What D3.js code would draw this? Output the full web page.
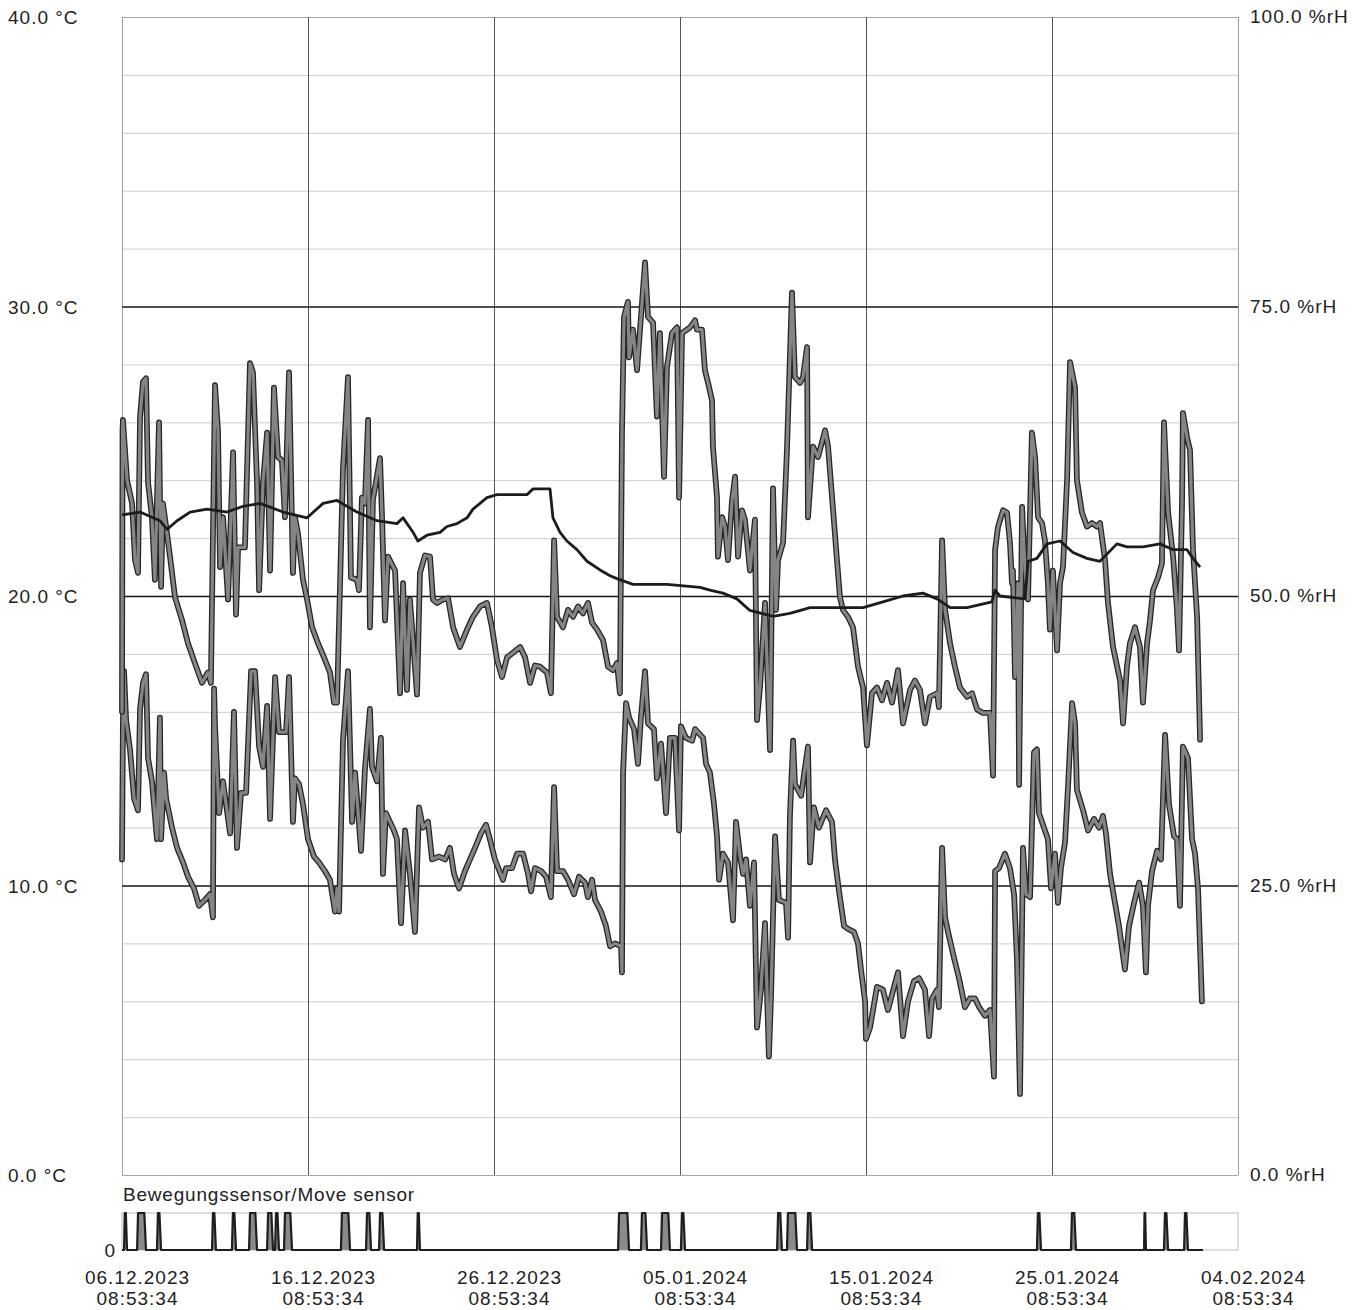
<!DOCTYPE html>
<html><head><meta charset="utf-8">
<script src="https://cdn.jsdelivr.net/npm/d3@7"></script>
<style>
html,body{margin:0;padding:0;background:#fff;}
svg{display:block;font-family:"Liberation Sans",Arial,Helvetica,sans-serif;}
</style></head><body>
<svg id="chart" width="1364" height="1310"></svg>
<script>
// ---------- DATA ----------
const startTime = new Date(2023, 11, 6, 8, 53, 34);
const tempTicks = [0, 10, 20, 30, 40];
const humTicks = [0, 25, 50, 75, 100];
const dateTickDays = [0, 10, 20, 30, 40, 50, 60];
const motionTitle = "Bewegungssensor/Move sensor";

// temperature [day offset, °C]
const temperature = [[0.00,22.8],[0.97,22.9],[2.04,22.6],[2.42,22.3],[2.96,22.6],[3.66,22.9],[4.57,23.0],[5.65,22.9],[6.51,23.1],[7.42,23.2],[8.66,22.9],[9.95,22.7],[10.81,23.2],[11.56,23.3],[12.63,22.9],[13.71,22.6],[14.78,22.5],[15.11,22.7],[15.65,22.2],[15.91,21.9],[16.40,22.1],[17.10,22.2],[17.47,22.4],[18.01,22.5],[18.55,22.7],[18.87,23.0],[19.25,23.2],[19.62,23.4],[20.16,23.5],[21.77,23.5],[22.10,23.7],[23.01,23.7],[23.17,22.7],[23.55,22.2],[23.92,21.9],[24.46,21.6],[25.00,21.2],[25.70,20.9],[26.24,20.7],[26.61,20.6],[27.47,20.4],[29.30,20.4],[31.08,20.3],[31.61,20.2],[32.31,20.1],[33.06,19.9],[33.76,19.5],[35.00,19.3],[35.91,19.4],[36.99,19.6],[38.98,19.6],[39.84,19.6],[40.91,19.8],[41.99,20.0],[43.06,20.1],[43.82,19.9],[44.52,19.6],[45.43,19.6],[46.77,19.8],[46.94,20.2],[47.20,20.0],[48.55,19.9],[48.71,21.2],[49.19,21.3],[49.73,21.8],[50.43,21.9],[51.13,21.5],[51.88,21.3],[52.58,21.2],[53.49,21.8],[54.03,21.7],[54.89,21.7],[55.81,21.8],[56.51,21.6],[57.26,21.6],[57.58,21.3],[57.96,21.0]];

// relative humidity [day offset, %rH]
const humidity = [[0.00,40.0],[0.03,64.3],[0.05,65.2],[0.27,60.0],[0.54,58.0],[0.70,53.1],[0.86,52.0],[0.97,65.5],[1.13,68.5],[1.29,68.8],[1.40,59.8],[1.61,56.8],[1.77,51.4],[1.99,65.0],[2.10,50.8],[2.20,58.0],[2.37,56.0],[2.58,53.4],[2.85,49.9],[3.23,47.9],[3.55,45.9],[3.92,44.2],[4.30,42.5],[4.62,43.4],[4.78,42.5],[5.00,68.2],[5.16,64.3],[5.27,52.5],[5.43,56.8],[5.70,49.7],[5.97,62.4],[6.13,48.4],[6.24,54.2],[6.61,54.2],[6.88,70.1],[7.04,69.3],[7.26,59.8],[7.37,50.5],[7.58,59.8],[7.80,64.1],[7.96,52.2],[8.17,68.0],[8.39,62.0],[8.60,61.7],[8.76,56.8],[8.98,69.3],[9.19,52.0],[9.30,56.8],[9.46,55.4],[9.73,51.4],[9.95,49.7],[10.22,47.3],[10.54,45.9],[10.91,44.5],[11.18,43.4],[11.40,40.8],[11.56,40.8],[11.88,60.9],[12.15,68.9],[12.31,51.6],[12.63,51.4],[12.74,50.5],[12.90,58.5],[13.06,58.0],[13.23,65.2],[13.33,47.3],[13.49,58.3],[13.87,61.9],[13.98,56.8],[14.14,47.9],[14.30,53.4],[14.68,52.2],[14.95,41.6],[15.11,51.1],[15.32,41.9],[15.48,49.7],[15.86,41.5],[16.02,52.0],[16.29,53.5],[16.56,53.4],[16.72,49.7],[16.94,49.4],[17.26,49.7],[17.53,49.8],[17.80,47.3],[18.17,45.6],[18.55,47.1],[18.87,48.2],[19.25,49.1],[19.62,49.4],[19.89,47.3],[20.16,44.5],[20.43,43.0],[20.70,44.7],[21.02,45.1],[21.40,45.6],[21.67,44.7],[21.94,42.5],[22.20,44.0],[22.47,43.9],[22.85,43.4],[23.06,41.6],[23.23,54.8],[23.39,48.2],[23.71,47.3],[23.98,48.8],[24.25,48.2],[24.52,49.1],[24.78,48.5],[25.05,49.4],[25.27,47.7],[25.54,47.1],[25.86,46.2],[26.13,43.9],[26.40,43.6],[26.61,44.2],[26.77,41.6],[26.88,64.1],[26.99,74.1],[27.20,75.4],[27.26,70.6],[27.47,73.0],[27.69,69.5],[27.85,73.0],[28.12,78.8],[28.28,74.1],[28.55,73.6],[28.76,65.5],[28.92,72.7],[29.14,60.3],[29.30,69.8],[29.57,72.7],[29.84,73.2],[29.95,58.5],[30.11,72.7],[30.54,73.2],[30.81,73.8],[30.91,73.0],[31.18,73.0],[31.34,69.5],[31.51,68.4],[31.72,66.9],[31.77,62.9],[31.99,58.5],[32.04,53.4],[32.26,56.8],[32.42,56.0],[32.58,53.1],[32.80,58.3],[32.96,60.3],[33.12,53.4],[33.33,57.4],[33.49,56.6],[33.76,52.2],[34.03,56.6],[34.14,39.3],[34.30,42.1],[34.57,49.4],[34.84,36.7],[35.00,59.3],[35.16,48.8],[35.27,53.1],[35.54,54.6],[35.75,62.6],[36.02,76.2],[36.18,68.9],[36.45,68.4],[36.61,68.9],[36.83,71.5],[36.88,56.8],[37.15,62.9],[37.42,62.0],[37.80,64.3],[37.96,62.9],[38.23,57.4],[38.44,53.1],[38.60,49.9],[38.76,48.8],[39.03,48.2],[39.30,47.3],[39.57,43.9],[39.84,42.1],[40.05,37.1],[40.32,41.6],[40.59,42.1],[40.86,41.0],[41.13,42.5],[41.40,40.8],[41.72,43.6],[41.99,39.0],[42.37,41.9],[42.63,42.7],[42.90,41.9],[43.17,39.0],[43.44,41.3],[43.82,41.6],[43.92,40.4],[44.09,54.8],[44.25,48.8],[44.52,45.9],[44.78,43.9],[45.05,42.1],[45.43,41.3],[45.70,41.6],[45.97,40.2],[46.29,39.9],[46.67,39.9],[46.83,34.5],[46.94,54.0],[47.10,56.0],[47.37,57.4],[47.58,57.2],[47.74,54.6],[47.85,51.1],[47.90,52.2],[48.01,43.0],[48.17,51.1],[48.23,33.7],[48.39,57.7],[48.55,52.2],[48.71,49.7],[48.92,64.1],[49.09,62.0],[49.25,56.8],[49.46,56.3],[49.62,54.8],[49.78,51.1],[49.89,47.1],[50.05,52.2],[50.27,45.3],[50.43,51.1],[50.59,52.5],[50.81,60.0],[50.97,70.2],[51.24,68.0],[51.34,60.0],[51.61,57.2],[51.88,56.0],[52.15,56.3],[52.42,56.0],[52.58,56.3],[52.85,53.1],[53.01,49.4],[53.28,45.6],[53.66,42.7],[53.82,39.0],[54.03,43.9],[54.19,45.9],[54.46,47.3],[54.73,45.6],[54.89,40.8],[55.11,45.9],[55.27,47.9],[55.43,50.5],[55.70,51.6],[55.91,52.8],[56.02,65.0],[56.24,57.2],[56.51,53.4],[56.72,48.8],[56.83,45.3],[56.99,58.0],[57.04,65.8],[57.26,63.7],[57.42,62.6],[57.58,54.0],[57.80,48.2],[57.96,37.6]];

// dew point [day offset, °C]
const dewPoint = [[0.00,10.9],[0.05,15.6],[0.11,17.4],[0.22,15.7],[0.43,14.7],[0.65,13.0],[0.86,12.6],[0.97,16.1],[1.13,17.0],[1.29,17.3],[1.40,14.4],[1.61,13.6],[1.88,11.6],[2.04,15.8],[2.10,11.6],[2.26,13.9],[2.37,13.0],[2.69,12.0],[2.96,11.3],[3.28,10.8],[3.55,10.3],[3.87,9.9],[4.14,9.3],[4.46,9.5],[4.73,9.7],[4.89,8.9],[4.95,16.8],[5.00,15.5],[5.22,12.5],[5.43,13.6],[5.81,11.8],[6.02,16.0],[6.18,11.3],[6.40,13.2],[6.67,13.2],[6.94,17.4],[7.15,17.4],[7.37,14.8],[7.58,14.1],[7.80,16.2],[7.96,12.3],[8.23,17.2],[8.44,15.3],[8.82,15.3],[8.98,17.2],[9.19,12.2],[9.30,13.7],[9.52,13.5],[9.73,12.8],[10.00,11.6],[10.32,11.0],[10.59,10.8],[10.91,10.5],[11.18,10.2],[11.45,9.1],[11.56,9.9],[11.67,9.1],[11.88,15.0],[12.15,17.4],[12.37,12.2],[12.53,13.9],[12.85,11.2],[13.06,14.0],[13.33,16.1],[13.44,14.1],[13.71,13.6],[13.92,15.1],[14.03,10.4],[14.19,12.5],[14.62,11.9],[14.78,11.6],[15.00,8.7],[15.22,11.9],[15.48,10.4],[15.75,8.4],[15.97,12.7],[16.18,12.0],[16.45,12.2],[16.67,10.9],[17.04,11.0],[17.37,10.9],[17.63,11.3],[17.85,10.4],[18.12,9.9],[18.44,10.5],[18.71,10.9],[18.98,11.3],[19.30,11.8],[19.57,12.1],[19.78,11.6],[20.05,10.9],[20.48,10.2],[20.65,10.6],[20.97,10.6],[21.24,11.1],[21.56,11.1],[21.83,10.4],[21.99,9.8],[22.20,10.6],[22.53,10.5],[22.80,10.3],[23.06,9.6],[23.23,13.4],[23.39,10.5],[23.71,10.5],[23.98,10.2],[24.30,9.7],[24.57,10.3],[24.89,10.1],[25.05,9.6],[25.27,10.2],[25.43,9.5],[25.75,9.1],[26.02,8.6],[26.24,7.9],[26.51,8.0],[26.83,7.9],[26.88,7.0],[26.94,13.9],[27.10,16.3],[27.26,15.8],[27.53,15.4],[27.74,14.2],[27.90,15.8],[28.12,17.4],[28.28,15.6],[28.60,15.4],[28.76,13.7],[28.98,14.9],[29.25,12.5],[29.46,15.1],[29.73,15.1],[29.95,11.9],[30.05,15.5],[30.32,15.1],[30.65,15.0],[30.81,15.4],[31.24,15.1],[31.40,14.2],[31.61,13.9],[31.83,12.8],[31.99,11.7],[32.10,10.2],[32.31,11.1],[32.58,10.8],[32.85,8.8],[33.01,12.2],[33.23,11.0],[33.39,10.4],[33.55,10.9],[33.76,9.3],[33.98,10.8],[34.14,5.1],[34.35,6.4],[34.57,8.7],[34.78,4.1],[34.89,6.1],[35.11,11.7],[35.32,9.5],[35.70,9.4],[35.81,8.2],[35.91,12.4],[36.08,15.0],[36.18,13.5],[36.51,13.1],[36.88,14.8],[36.99,10.8],[37.20,12.7],[37.47,12.0],[37.85,12.6],[38.17,12.2],[38.33,10.9],[38.55,9.8],[38.82,8.6],[39.03,8.5],[39.35,8.4],[39.57,8.0],[39.73,7.1],[39.95,6.0],[40.00,4.7],[40.22,5.1],[40.43,5.9],[40.59,6.5],[40.91,6.4],[41.18,5.7],[41.51,6.5],[41.72,7.0],[41.99,4.8],[42.26,6.0],[42.58,6.7],[42.85,6.8],[43.17,6.4],[43.39,4.8],[43.55,6.1],[43.82,6.4],[43.92,5.8],[44.09,11.3],[44.25,8.9],[44.41,8.4],[44.73,7.5],[45.00,6.8],[45.32,5.8],[45.59,6.1],[45.86,6.1],[46.08,5.8],[46.40,5.5],[46.67,5.7],[46.88,3.4],[46.94,10.5],[47.15,10.6],[47.47,11.1],[47.74,10.6],[47.96,9.7],[48.12,7.4],[48.28,2.8],[48.44,11.3],[48.60,9.7],[48.82,9.6],[49.03,14.6],[49.19,14.7],[49.30,12.5],[49.62,11.9],[49.78,11.6],[49.95,9.9],[50.16,11.1],[50.32,9.4],[50.48,10.6],[50.70,11.5],[50.86,13.4],[51.08,16.3],[51.24,15.6],[51.34,13.3],[51.67,12.6],[51.94,11.9],[52.26,12.3],[52.53,12.0],[52.74,12.4],[52.90,11.8],[53.12,10.4],[53.33,9.6],[53.60,8.6],[53.92,7.1],[54.14,8.6],[54.41,9.4],[54.68,10.1],[54.89,9.3],[55.05,7.0],[55.16,9.3],[55.38,10.5],[55.65,11.2],[55.86,10.9],[56.08,15.2],[56.29,12.8],[56.56,11.7],[56.72,11.6],[56.88,9.3],[57.04,14.8],[57.31,14.4],[57.53,11.6],[57.69,11.1],[57.85,9.9],[58.06,6.0]];

// move sensor active intervals [start day, end day]
const motionIntervals = [[0.11,0.27],[0.81,1.29],[1.88,2.10],[4.84,5.05],[5.91,6.13],[6.83,7.26],[7.80,8.12],[8.23,8.44],[8.71,9.14],[11.77,12.26],[13.12,13.39],[13.82,14.09],[15.86,16.02],[26.67,27.26],[27.90,28.23],[28.98,29.46],[30.05,30.27],[35.22,35.48],[35.75,36.29],[36.83,37.10],[49.19,49.41],[51.02,51.29],[54.95,55.05],[56.02,56.24],[57.10,57.31]];
const motionEndDay = 58.12;

// ---------- LAYOUT ----------
const L = 122, R = 1238, T = 17, B = 1175;
const stripTop = 1213, stripBase = 1250;
const textColor = "#222";
const svg = d3.select("#chart");
const toDate = d => new Date(startTime.getTime() + d * 86400000);

const x = d3.scaleTime().domain([toDate(0), toDate(60)]).range([L, R]);
const yT = d3.scaleLinear().domain([0, 40]).range([B, T]);
const yH = d3.scaleLinear().domain([0, 100]).range([B, T]);
const yM = d3.scaleLinear().domain([0, 1]).range([stripBase, stripTop]);

// ---------- GRID ----------
const minorVals = d3.range(2, 40, 2).filter(v => v % 10 !== 0);
svg.append("g").attr("transform", `translate(${L},0)`)
  .call(d3.axisLeft(yT).tickValues(minorVals).tickSize(-(R - L)).tickFormat(""))
  .call(g => g.select(".domain").remove())
  .call(g => g.selectAll("line").attr("stroke", "#cdcdcd").attr("stroke-width", 1));

svg.append("g").attr("transform", `translate(${L},0)`)
  .call(d3.axisLeft(yT).tickValues([0, 40]).tickSize(-(R - L)).tickFormat(""))
  .call(g => g.select(".domain").remove())
  .call(g => g.selectAll("line").attr("stroke", "#a8a8a8").attr("stroke-width", 1));

const dateTicks = dateTickDays.map(toDate);
svg.append("g").attr("transform", `translate(0,${B})`)
  .call(d3.axisTop(x).tickValues(dateTicks.slice(1, -1)).tickSize(B - T).tickFormat(""))
  .call(g => g.select(".domain").remove())
  .call(g => g.selectAll("line").attr("stroke", "#555").attr("stroke-width", 1));
svg.append("g").attr("transform", `translate(0,${B})`)
  .call(d3.axisTop(x).tickValues([dateTicks[0], dateTicks[dateTicks.length - 1]]).tickSize(B - T).tickFormat(""))
  .call(g => g.select(".domain").remove())
  .call(g => g.selectAll("line").attr("stroke", "#a0a0a0").attr("stroke-width", 1));

svg.append("g").attr("transform", `translate(${L},0)`)
  .call(d3.axisLeft(yT).tickValues([10, 20, 30]).tickSize(-(R - L)).tickFormat(""))
  .call(g => g.select(".domain").remove())
  .call(g => g.selectAll("line").attr("stroke", "#161616").attr("stroke-width", 1.5));

// ---------- SERIES ----------
const lineH = d3.line().x(d => x(toDate(d[0]))).y(d => yH(d[1]));
const lineT = d3.line().x(d => x(toDate(d[0]))).y(d => yT(d[1]));

function bandPath(data, gen) {
  svg.append("path").datum(data).attr("d", gen)
    .attr("fill", "none").attr("stroke", "#262626").attr("stroke-width", 5.8)
    .attr("stroke-linejoin", "round").attr("stroke-linecap", "round");
  svg.append("path").datum(data).attr("d", gen)
    .attr("fill", "none").attr("stroke", "#858585").attr("stroke-width", 3.2)
    .attr("stroke-linejoin", "round").attr("stroke-linecap", "round");
}
bandPath(dewPoint, lineT);
bandPath(humidity, lineH);

svg.append("path").datum(temperature).attr("d", lineT)
  .attr("fill", "none").attr("stroke", "#1c1c1c").attr("stroke-width", 2.8)
  .attr("stroke-linejoin", "round");

// ---------- AXIS LABELS ----------
const labelStyle = g => g.selectAll("text")
  .attr("fill", textColor).attr("font-size", 19).attr("letter-spacing", 1)
  .attr("font-family", '"Liberation Sans", Arial, sans-serif');

svg.append("g").attr("transform", `translate(${L},0)`)
  .call(d3.axisLeft(yT).tickValues(tempTicks).tickSize(0).tickFormat(d => d.toFixed(1) + " °C"))
  .call(g => g.select(".domain").remove())
  .call(labelStyle)
  .call(g => g.selectAll("text").attr("text-anchor", "start").attr("x", 8 - L).attr("dy", "0.35em"));

svg.append("g").attr("transform", `translate(${R},0)`)
  .call(d3.axisRight(yH).tickValues(humTicks).tickSize(0).tickFormat(d => d.toFixed(1) + " %rH"))
  .call(g => g.select(".domain").remove())
  .call(labelStyle)
  .call(g => g.selectAll("text").attr("text-anchor", "start").attr("x", 12).attr("dy", "0.30em"));

const fmtDate = d3.timeFormat("%d.%m.%Y");
const fmtTime = d3.timeFormat("%H:%M:%S");
svg.append("g")
  .call(d3.axisBottom(x).tickValues(dateTicks).tickSize(0).tickFormat(""))
  .call(g => g.select(".domain").remove())
  .call(g => g.selectAll(".tick text").each(function (d) {
    const t = d3.select(this).attr("y", null).attr("dy", null).attr("text-anchor", "middle");
    t.append("tspan").attr("x", 15).attr("y", 1284).text(fmtDate(d));
    t.append("tspan").attr("x", 15).attr("y", 1305).text(fmtTime(d));
  }))
  .call(labelStyle);

// ---------- MOVE SENSOR STRIP ----------
svg.append("text").attr("x", 123).attr("y", 1201).text(motionTitle)
  .attr("fill", textColor).attr("font-size", 19).attr("letter-spacing", 0.8);

svg.append("rect").attr("x", L).attr("y", stripTop).attr("width", R - L).attr("height", stripBase - stripTop)
  .attr("fill", "none").attr("stroke", "#bdbdbd").attr("stroke-width", 1);

const motionPoints = [[0, 0]];
motionIntervals.forEach(([s, e]) => {
  const r = Math.min(0.09, (e - s) / 2.5);
  motionPoints.push([s, 0], [s + r * 0.6, 1], [e - r, 1], [e, 0]);
});
motionPoints.push([motionEndDay, 0]);

const motionX = d => x(toDate(d[0]));
svg.append("path").datum(motionPoints)
  .attr("d", d3.area().x(motionX).y0(yM(0)).y1(d => yM(d[1])))
  .attr("fill", "#8a8a8a");
svg.append("path").datum(motionPoints)
  .attr("d", d3.line().x(motionX).y(d => yM(d[1])))
  .attr("fill", "none").attr("stroke", "#1e1e1e").attr("stroke-width", 2.2)
  .attr("stroke-linejoin", "round");

svg.append("g").attr("transform", `translate(${L - 4},0)`)
  .call(d3.axisLeft(yM).tickValues([0]).tickSize(0).tickFormat(d => String(d)))
  .call(g => g.select(".domain").remove())
  .call(labelStyle)
  .call(g => g.selectAll("text").attr("x", -2).attr("dy", "0.35em"));
</script>
</body></html>
